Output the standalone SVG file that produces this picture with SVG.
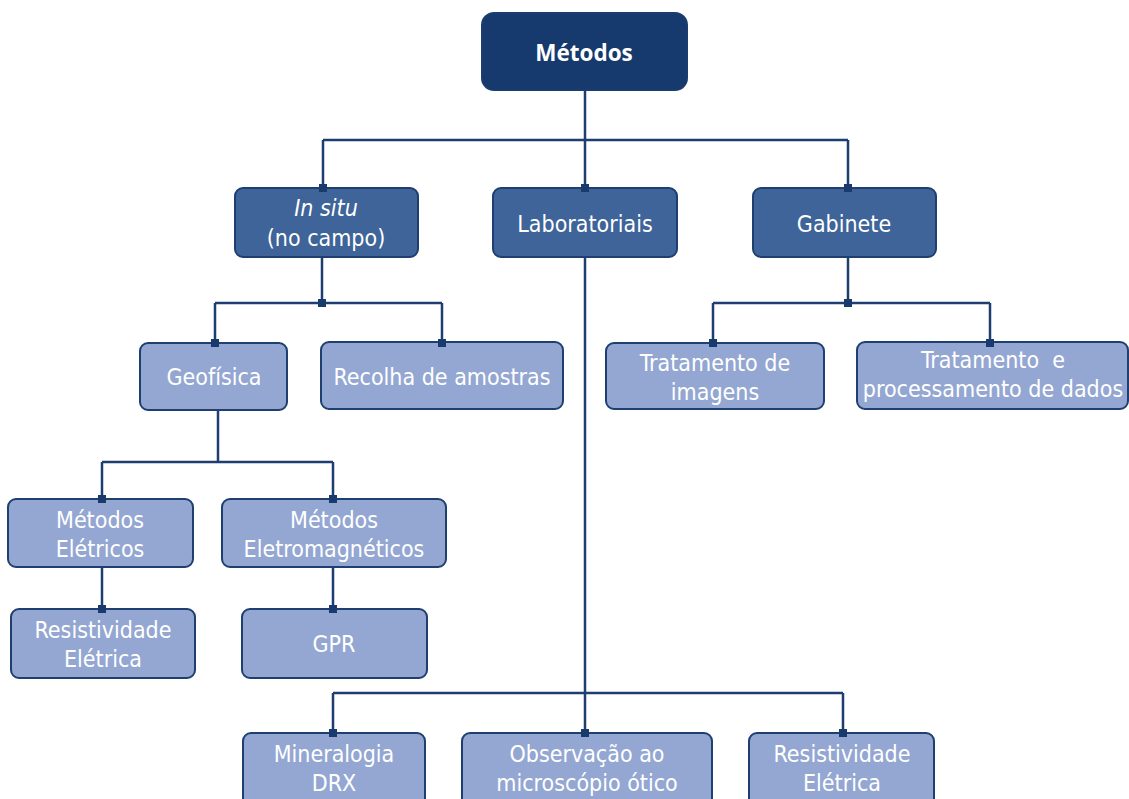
<svg xmlns="http://www.w3.org/2000/svg" width="1129" height="799" viewBox="0 0 1129 799">
<style>
.top{fill:#163a6e;stroke:#1b3c6f;stroke-width:2}
.l1{fill:#3e6499;stroke:#1f3f70;stroke-width:2}
.l2{fill:#94a7d2;stroke:#1f3f70;stroke-width:2}
text{font-family:"Liberation Sans Narrow","DejaVu Sans Condensed","Roboto",sans-serif;font-size:23px;fill:#ffffff;text-anchor:middle}
.b{font-weight:bold;font-family:"Open Sans","Noto Sans",sans-serif;font-size:22.5px}
.conn path{fill:none;stroke:#1e3e72;stroke-width:2.5}
.conn rect{fill:#183a6c}
</style>
<rect width="1129" height="799" fill="#ffffff"/>
<g id="metodos"><rect class="top" x="482" y="13" width="205" height="77" rx="12"/><text class="b" x="584" y="61">Métodos</text></g>
<g id="insitu"><rect class="l1" x="235" y="188" width="183" height="69" rx="8"/><text x="326" y="216" font-style="italic">In situ</text><text x="326" y="246">(no campo)</text></g>
<g id="laboratoriais"><rect class="l1" x="493" y="188" width="184" height="69" rx="8"/><text x="585" y="232">Laboratoriais</text></g>
<g id="gabinete"><rect class="l1" x="753" y="188" width="183" height="69" rx="8"/><text x="844" y="232">Gabinete</text></g>
<g id="geofisica"><rect class="l2" x="140" y="343" width="147" height="67" rx="8"/><text x="214" y="385">Geofísica</text></g>
<g id="recolha"><rect class="l2" x="321" y="342" width="242" height="67" rx="8"/><text x="442" y="385">Recolha de amostras</text></g>
<g id="trat-imagens"><rect class="l2" x="606" y="343" width="218" height="66" rx="8"/><text x="715" y="371">Tratamento de</text><text x="715" y="400">imagens</text></g>
<g id="trat-dados"><rect class="l2" x="857" y="342" width="271" height="67" rx="8"/><text x="993" y="368" xml:space="preserve">Tratamento  e</text><text x="993" y="397">processamento de dados</text></g>
<g id="met-eletricos"><rect class="l2" x="8" y="499" width="185" height="68" rx="8"/><text x="100" y="528">Métodos</text><text x="100" y="557">Elétricos</text></g>
<g id="met-eletromag"><rect class="l2" x="222" y="499" width="224" height="68" rx="8"/><text x="334" y="528">Métodos</text><text x="334" y="557">Eletromagnéticos</text></g>
<g id="resistividade1"><rect class="l2" x="11" y="609" width="184" height="69" rx="8"/><text x="103" y="638">Resistividade</text><text x="103" y="667">Elétrica</text></g>
<g id="gpr"><rect class="l2" x="242" y="609" width="185" height="69" rx="8"/><text x="334" y="652">GPR</text></g>
<g id="mineralogia"><rect class="l2" x="243" y="733" width="182" height="75" rx="8"/><text x="334" y="762">Mineralogia</text><text x="334" y="791">DRX</text></g>
<g id="observacao"><rect class="l2" x="462" y="733" width="250" height="75" rx="8"/><text x="587" y="762">Observação ao</text><text x="587" y="791">microscópio ótico</text></g>
<g id="resistividade2"><rect class="l2" x="749" y="733" width="185" height="75" rx="8"/><text x="842" y="762">Resistividade</text><text x="842" y="791">Elétrica</text></g>
<g class="conn" id="connectors">
<path d="M585 91V140M323 140H848M323 140V188M585 140V188M848 140V188"/>
<path d="M322 258V303M215 303H442M215 303V343M442 303V343"/>
<path d="M848 258V303M713 303H990M713 303V343M990 303V343"/>
<path d="M218 411V462M102 462H333M102 462V499M333 462V499"/>
<path d="M102 568V609M333 568V609"/>
<path d="M585 258V693M333 693H843M333 693V733M585 693V733M843 693V733"/>
<rect x="581" y="184" width="8" height="8"/><rect x="319" y="184" width="8" height="8"/><rect x="844" y="184" width="8" height="8"/>
<rect x="318" y="299" width="8" height="8"/><rect x="211" y="339" width="8" height="8"/><rect x="438" y="339" width="8" height="8"/>
<rect x="844" y="299" width="8" height="8"/><rect x="709" y="339" width="8" height="8"/><rect x="986" y="339" width="8" height="8"/>
<rect x="98" y="495" width="8" height="8"/><rect x="329" y="495" width="8" height="8"/>
<rect x="98" y="605" width="8" height="8"/><rect x="329" y="605" width="8" height="8"/>
<rect x="329" y="729" width="8" height="8"/><rect x="581" y="729" width="8" height="8"/><rect x="839" y="729" width="8" height="8"/>
</g>
</svg>
